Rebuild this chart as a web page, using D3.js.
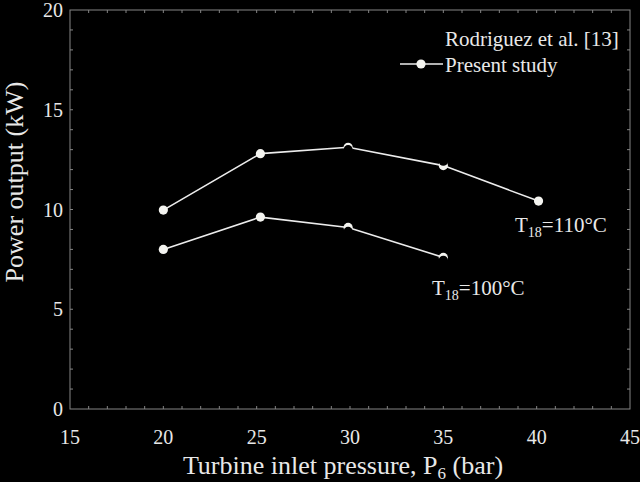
<!DOCTYPE html>
<html><head><meta charset="utf-8">
<script src="https://cdn.jsdelivr.net/npm/d3@7"></script>
<style>body{margin:0;background:#000}svg{display:block}</style>
</head><body>
<svg id="c" width="640" height="482"></svg>
<script>
// Data
const pressure110 = [20, 25.2, 29.9, 35, 40.1];
const power110 = [9.97, 12.8, 13.12, 12.2, 10.42];
const pressure100 = [20, 25.2, 29.9, 35];
const power100 = [8.0, 9.62, 9.1, 7.6];
const rodPressure110 = [29.9, 35];
const rodPower110 = [13.0, 12.42];
const rodPressure100 = [29.9, 35];
const rodPower100 = [8.9, 7.45];
const xTicks = [15, 20, 25, 30, 35, 40, 45];
const yTicks = [0, 5, 10, 15, 20];

const svg = d3.select("#c");
const L = 70, R = 630, T = 10, B = 409;
const x = d3.scaleLinear().domain([15, 45]).range([L, R]);
const y = d3.scaleLinear().domain([0, 20]).range([B, T]);
const font = "Liberation Serif, Times New Roman, serif";
const axCol = "#858585";

svg.append("rect").attr("width", 640).attr("height", 482).attr("fill", "#000");

// frame
svg.append("rect").attr("x", L).attr("y", T).attr("width", R - L).attr("height", B - T)
  .attr("fill", "none").attr("stroke", axCol).attr("stroke-width", 1);

// minor ticks
const xm = d3.range(16, 45, 1), ym = d3.range(1, 20, 1);
const g = svg.append("g").attr("stroke", axCol).attr("stroke-width", 1);
xm.forEach(v => {
  g.append("line").attr("x1", x(v)).attr("x2", x(v)).attr("y1", B).attr("y2", B - 3);
  g.append("line").attr("x1", x(v)).attr("x2", x(v)).attr("y1", T).attr("y2", T + 3);
});
ym.forEach(v => {
  g.append("line").attr("x1", L).attr("x2", L + 3).attr("y1", y(v)).attr("y2", y(v));
  g.append("line").attr("x1", R).attr("x2", R - 3).attr("y1", y(v)).attr("y2", y(v));
});

// tick labels
svg.append("g").selectAll("text").data(xTicks).join("text")
  .attr("x", d => x(d)).attr("y", 444).attr("text-anchor", "middle")
  .attr("font-family", font).attr("font-size", 20).attr("fill", "#e8e8e8").text(d => d);
svg.append("g").selectAll("text").data(yTicks).join("text")
  .attr("x", 63).attr("y", d => y(d) + 7).attr("text-anchor", "end")
  .attr("font-family", font).attr("font-size", 20).attr("fill", "#e8e8e8").text(d => d);

// axis titles
const xt = svg.append("text").attr("x", 343).attr("y", 474).attr("text-anchor", "middle")
  .attr("font-family", font).attr("font-size", 26).attr("fill", "#e8e8e8");
xt.append("tspan").text("Turbine inlet pressure, P");
xt.append("tspan").attr("font-size", 17).attr("dy", 5).text("6");
xt.append("tspan").attr("dy", -5).text(" (bar)");

svg.append("text").attr("transform", "translate(23,182) rotate(-90)").attr("text-anchor", "middle")
  .attr("font-family", font).attr("font-size", 26).attr("fill", "#e8e8e8").text("Power output (kW)");

// lines
const line = d3.line().x(d => x(d[0])).y(d => y(d[1]));
const s110 = pressure110.map((p, i) => [p, power110[i]]);
const s100 = pressure100.map((p, i) => [p, power100[i]]);
[s110, s100].forEach(s => {
  svg.append("path").datum(s).attr("d", line).attr("fill", "none")
    .attr("stroke", "#ececec").attr("stroke-width", 1.6);
  svg.append("g").selectAll("circle").data(s).join("circle")
    .attr("cx", d => x(d[0])).attr("cy", d => y(d[1])).attr("r", 4.6).attr("fill", "#f4f4f0");
});
// Rodriguez (black markers)
const r110 = rodPressure110.map((p, i) => [p, rodPower110[i]]);
const r100 = rodPressure100.map((p, i) => [p, rodPower100[i]]);
[r110, r100].forEach(s => {
  svg.append("g").selectAll("circle").data(s).join("circle")
    .attr("cx", d => x(d[0])).attr("cy", d => y(d[1])).attr("r", 4.6).attr("fill", "#000");
});

// legend
svg.append("text").attr("x", 445).attr("y", 46).attr("font-family", font).attr("font-size", 21)
  .attr("fill", "#e8e8e8").text("Rodriguez et al. [13]");
svg.append("line").attr("x1", 400).attr("x2", 443).attr("y1", 64).attr("y2", 64)
  .attr("stroke", "#ececec").attr("stroke-width", 1.6);
svg.append("circle").attr("cx", 421).attr("cy", 64).attr("r", 4.6).attr("fill", "#f4f4f0");
svg.append("text").attr("x", 445).attr("y", 72).attr("font-family", font).attr("font-size", 21)
  .attr("fill", "#e8e8e8").text("Present study");

// annotations
function ann(xp, yp, val) {
  const t = svg.append("text").attr("x", xp).attr("y", yp).attr("font-family", font)
    .attr("font-size", 21).attr("fill", "#e8e8e8");
  t.append("tspan").text("T");
  t.append("tspan").attr("font-size", 14).attr("dy", 5).text("18");
  t.append("tspan").attr("dy", -5).text("=" + val + "°C");
}
ann(515, 232, 110);
ann(432, 295, 100);
</script>
</body></html>
